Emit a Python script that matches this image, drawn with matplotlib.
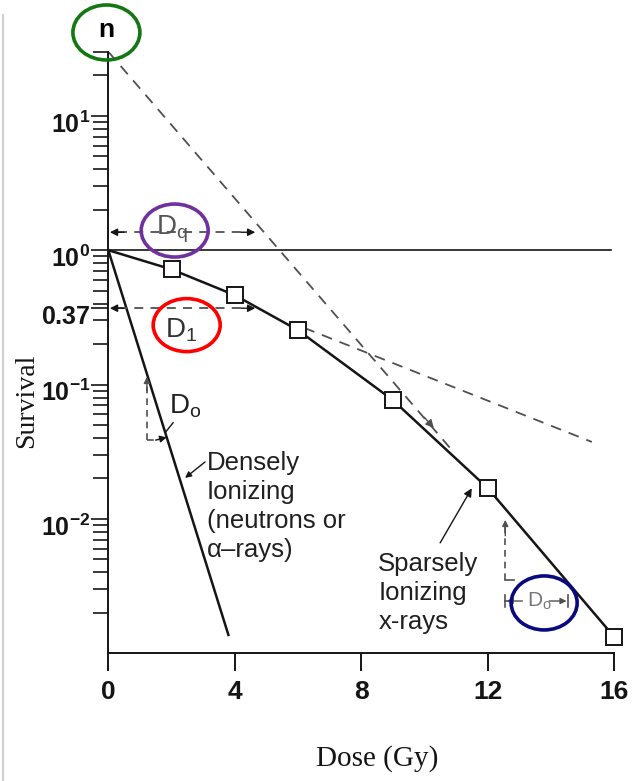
import numpy as np
import matplotlib
matplotlib.use('Agg')
import matplotlib.pyplot as plt
from matplotlib.patches import Ellipse
from matplotlib.lines import Line2D
from matplotlib.transforms import ScaledTranslation
from matplotlib.ticker import FixedLocator, LogLocator, NullFormatter

plt.rcParams['font.family'] = ['Liberation Sans', 'DejaVu Sans']
plt.rcParams['mathtext.fontset'] = 'custom'
plt.rcParams['mathtext.rm'] = 'Liberation Sans'
plt.rcParams['mathtext.bf'] = 'Liberation Sans:bold'
plt.rcParams['mathtext.it'] = 'Liberation Sans:italic'

# sparsely ionizing (x-rays) measured points
xray_dose = [2, 4, 6, 9, 12, 16]
xray_surv = [0.72, 0.463, 0.254, 0.0767, 0.0170, 0.00133]

# densely ionizing (neutrons / alpha) straight line
dense_dose = [0, 3.8]
dense_surv = [1.0, 0.00137]

# extrapolated terminal slope back to n, and initial slope (D1)
steep_dose = [0, 10.8]
steep_surv = [30, 0.034]
shallow_dose = [6.2, 15.3]
shallow_surv = [0.264, 0.0374]

unit_dose = [0, 15.9]
unit_surv = [1.0, 1.0]

ytick_vals = [10, 1, 0.37, 0.1, 0.01]
ytick_labels = [r'$\mathbf{10^{1}}$', r'$\mathbf{10^{0}}$', r'$\mathbf{0.37}$',
                r'$\mathbf{10^{-1}}$', r'$\mathbf{10^{-2}}$']
xtick_vals = [0, 4, 8, 12, 16]

INK = '#151515'
DASH = '#505050'


def head(ax, tip, tail, color=INK, scale=11):
    ax.annotate('', xy=tip, xytext=tail,
                arrowprops=dict(arrowstyle='-|>', color=color, lw=1.0,
                                mutation_scale=scale, shrinkA=0, shrinkB=0))


def ring(fig, ax, x, y, w, h, color):
    tr = fig.dpi_scale_trans + ScaledTranslation(x, y, ax.transData)
    e = Ellipse((0, 0), w / 100, h / 100, transform=tr, fill=False,
                edgecolor=color, lw=2.6, clip_on=False, zorder=10)
    fig.add_artist(e)


def main():
    fig = plt.figure(figsize=(6.33, 7.81), dpi=100)
    ax = fig.add_axes([108.3 / 633, 127.7 / 781, 505.7 / 633, 601.6 / 781])
    ax.set_yscale('log')
    ax.set_xlim(0, 16)
    ax.set_ylim(1e-3, 30)

    for s in ['top', 'right']:
        ax.spines[s].set_visible(False)
    for s in ['left', 'bottom']:
        ax.spines[s].set_linewidth(1.4)
        ax.spines[s].set_color(INK)

    # curves
    ax.plot([0] + xray_dose, [1.0] + xray_surv, color=INK, lw=1.8, zorder=3)
    ax.plot(xray_dose, xray_surv, ls='none', marker='s', ms=11.5, mfc='white',
            mec=INK, mew=1.4, zorder=4, clip_on=False)
    ax.plot(dense_dose, dense_surv, color=INK, lw=1.8)
    ax.plot(unit_dose, unit_surv, color=INK, lw=1.2)
    ax.plot(steep_dose, steep_surv, color=DASH, lw=1.3, ls=(0, (6, 4.5)))
    ax.plot(shallow_dose, shallow_surv, color=DASH, lw=1.3, ls=(0, (6, 4.5)))
    head(ax, (10.3, 0.0475), (10.0, 0.057), color=DASH, scale=12)

    # Dq and D1 arrows
    ax.plot([0.3, 4.4], [1.36, 1.36], color=DASH, lw=1.3, ls=(0, (5, 4)))
    head(ax, (0.05, 1.36), (0.5, 1.36), color=INK)
    head(ax, (4.65, 1.36), (4.2, 1.36), color=INK)
    ax.plot([0.3, 4.4], [0.37, 0.37], color=DASH, lw=1.3, ls=(0, (5, 4)))
    head(ax, (0.05, 0.37), (0.5, 0.37), color=INK)
    head(ax, (4.65, 0.37), (4.2, 0.37), color=INK)

    # D0 step on the densely ionizing line
    ax.plot([1.22, 1.22], [0.0386, 0.105], color=DASH, lw=1.2, ls=(0, (4, 3)))
    ax.plot([1.22, 1.6], [0.0386, 0.0386], color=DASH, lw=1.2, ls=(0, (4, 3)))
    head(ax, (1.22, 0.114), (1.22, 0.09), color=DASH, scale=9)
    head(ax, (1.85, 0.0405), (1.5, 0.0386), color=INK, scale=10)
    ax.plot([1.82, 2.05], [0.0445, 0.052], color=INK, lw=1.0)

    # D0 step on the x-ray curve
    ax.plot([12.56, 12.56], [0.00352, 0.0088], color=DASH, lw=1.2, ls=(0, (4, 3)))
    ax.plot([12.56, 12.85], [0.00352, 0.00352], color=DASH, lw=1.2)
    head(ax, (12.56, 0.00984), (12.56, 0.0075), color=DASH, scale=9)
    for bx in [12.56, 14.53]:
        ax.plot([bx, bx], [0.00221, 0.00272], color=DASH, lw=1.2)
    ax.plot([12.56, 12.8], [0.00245, 0.00245], color=DASH, lw=1.2)
    head(ax, (12.6, 0.00245), (13.1, 0.00245), color=DASH, scale=9)
    head(ax, (14.5, 0.00245), (13.95, 0.00245), color=DASH, scale=9)

    # text
    tc = '#202020'
    ax.text(3.11, 0.0322, 'Densely\nIonizing\n(neutrons or\nα–rays)', fontsize=18.5,
            color=tc, ha='left', va='top', linespacing=1.27)
    head(ax, (2.43, 10 ** -1.695), (3.06, 10 ** -1.576), color=INK, scale=9)
    ax.text(8.54, 0.0057, 'Sparsely\nIonizing\nx-rays', fontsize=18.5,
            color=tc, ha='left', va='top', linespacing=1.27)
    head(ax, (11.5, 10 ** -1.772), (10.5, 10 ** -2.178), color=INK, scale=12)

    ax.text(-0.06, 43.5, 'n', fontsize=19, fontweight='bold', color='black',
            ha='center', va='center', clip_on=False)
    ax.text(2.02, 1.43, r'D$_\mathregular{q}$', fontsize=20, color='#555555',
            ha='center', va='center')
    ax.text(2.3, 0.254, r'D$_\mathregular{1}$', fontsize=20, color='#333333',
            ha='center', va='center')
    ax.text(2.43, 0.0692, r'D$_\mathregular{o}$', fontsize=20, color=tc,
            ha='center', va='center')
    ax.text(13.64, 0.00245, r'D$_\mathregular{o}$', fontsize=15, color='#777777',
            ha='center', va='center')

    # highlight rings
    ring(fig, ax, -0.06, 41.7, 67, 55, '#137813')
    ring(fig, ax, 2.1, 1.40, 67, 53, '#7030A0')
    ring(fig, ax, 2.48, 0.277, 67, 53, '#FF0000')
    ring(fig, ax, 13.79, 0.00237, 66, 54, '#0A0A80')

    # axes ticks
    ax.yaxis.set_major_locator(FixedLocator(ytick_vals))
    ax.set_yticklabels(ytick_labels)
    ax.yaxis.set_minor_locator(LogLocator(base=10, subs=np.arange(2, 10)))
    ax.yaxis.set_minor_formatter(NullFormatter())
    ax.tick_params(axis='y', which='major', direction='out', length=12, width=1.2,
                   labelsize=18, pad=1, colors=INK)
    ax.tick_params(axis='y', which='minor', direction='out', length=11, width=1.2,
                   colors=INK)
    ax.set_xticks(xtick_vals)
    ax.set_xticklabels([str(v) for v in xtick_vals], fontweight='bold')
    ax.tick_params(axis='x', direction='out', length=13, width=1.4, labelsize=19,
                   pad=6, colors=INK)
    for lab in ax.get_yticklabels():
        lab.set_transform(lab.get_transform() + ScaledTranslation(0, -0.06, fig.dpi_scale_trans))

    ax.set_xlabel('Dose (Gy)', family='Liberation Serif', fontsize=21, color=INK)
    ax.xaxis.set_label_coords(0.532, -0.153)
    ax.set_ylabel('Survival', family='Liberation Serif', fontsize=20, color=INK)
    ax.yaxis.set_label_coords(-0.136, 0.419)

    # thin grey frame edge at the left of the page
    fig.add_artist(Line2D([2.5 / 633, 2.5 / 633], [0, 1 - 15 / 781],
                          transform=fig.transFigure, color='#d0d0d0', lw=1.5))

    fig.savefig('out.png', dpi=100)


if __name__ == '__main__':
    main()
